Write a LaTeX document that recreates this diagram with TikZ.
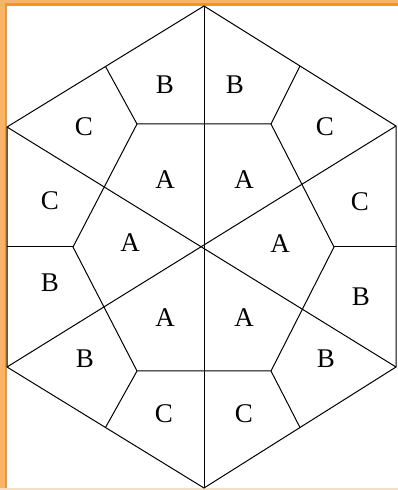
\documentclass[tikz,border=0pt]{standalone}
\usepackage{fontspec}
\setmainfont{Liberation Serif}
\usetikzlibrary{calc}
\definecolor{lightor}{HTML}{F9B36B}
\definecolor{darkor}{HTML}{F7941D}
\definecolor{paleor}{HTML}{F6DEC4}
\begin{document}
\begin{tikzpicture}[x=1pt,y=1pt,
  edge/.style={line width=1pt,black},
  lbl/.style={font=\fontsize{27}{27}\selectfont,inner sep=0pt}]
\useasboundingbox (0,0) rectangle (398,490);
% frame
\fill[lightor] (0,2) rectangle (398,490);
\fill[paleor] (0,0) rectangle (398,2);
\fill[darkor] (5,2) rectangle (398,487);
\fill[white] (7,2) rectangle (398,484);
% outer hexagon
\coordinate (top) at (204,484);
\coordinate (ur) at (396,364);
\coordinate (lr) at (396,123);
\coordinate (bot) at (204,2);
\coordinate (ll) at (7,123);
\coordinate (ul) at (7,363);
\coordinate (c) at (204,243);
% inner hexagon
\coordinate (i1) at (137,366);
\coordinate (i2) at (271,366);
\coordinate (i3) at (334,243);
\coordinate (i4) at (271,119);
\coordinate (i5) at (137,119);
\coordinate (i6) at (73,243);
% spoke ends
\coordinate (m1) at ($(ul)!0.5!(top)$);
\coordinate (m2) at ($(top)!0.5!(ur)$);
\coordinate (m3) at (396,243);
\coordinate (m4) at ($(lr)!0.5!(bot)$);
\coordinate (m5) at ($(bot)!0.5!(ll)$);
\coordinate (m6) at (7,243);
\draw[edge] (top) -- (ur) -- (lr) -- (bot) -- (ll) -- (ul) -- cycle;
\draw[edge] (top) -- (bot);
\draw[edge] (ul) -- (lr);
\draw[edge] (ur) -- (ll);
\draw[edge] (i1) -- (i2) -- (i3) -- (i4) -- (i5) -- (i6) -- cycle;
\draw[edge] (i1) -- (m1);
\draw[edge] (i2) -- (m2);
\draw[edge] (i3) -- (m3);
\draw[edge] (i4) -- (m4);
\draw[edge] (i5) -- (m5);
\draw[edge] (i6) -- (m6);
% labels
\node[lbl] (b1) at (165,405) {B};
\node[lbl] (b2) at (235,405) {B};
\node[lbl] (c1) at (84,363) {C};
\node[lbl] (c2) at (325,363) {C};
\node[lbl] (a1) at (165,310) {A};
\node[lbl] (a2) at (244,310) {A};
\node[lbl] (c3) at (50,289) {C};
\node[lbl] (c4) at (360,288) {C};
\node[lbl] (a3) at (130,247) {A};
\node[lbl] (a4) at (280,246) {A};
\node[lbl] (b3) at (50,207) {B};
\node[lbl] (b4) at (361,193) {B};
\node[lbl] (a5) at (165,172) {A};
\node[lbl] (a6) at (244,172) {A};
\node[lbl] (b5) at (85,131) {B};
\node[lbl] (b6) at (326,131) {B};
\node[lbl] (c5) at (164,76) {C};
\node[lbl] (c6) at (244,76) {C};
\end{tikzpicture}
\end{document}
